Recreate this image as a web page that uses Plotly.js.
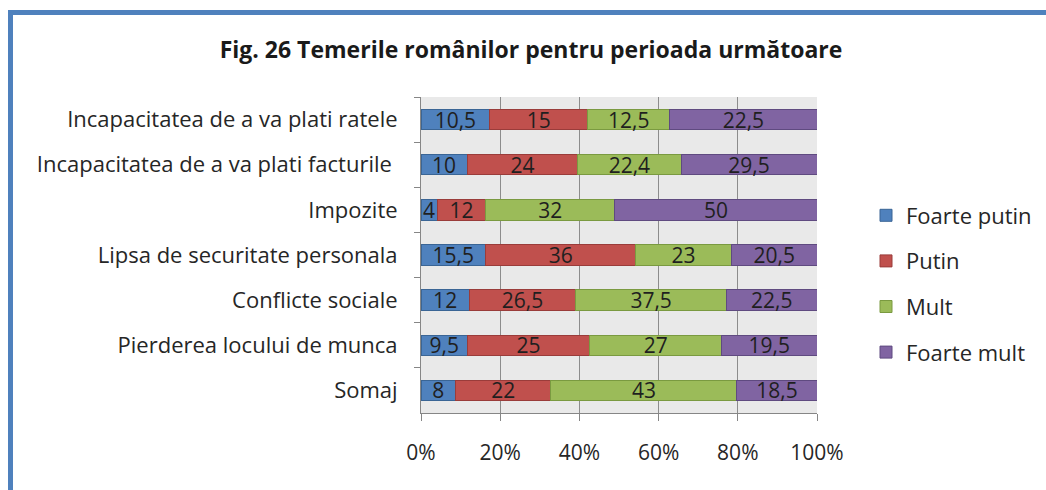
<!DOCTYPE html>
<html>
<head>
<meta charset="utf-8">
<script src="https://cdn.plot.ly/plotly-3.0.1.min.js"></script>
<style>
  html, body { margin: 0; padding: 0; background: #ffffff; }
  #wrap { position: relative; width: 1046px; height: 490px; overflow: hidden; }
  #chart { position: absolute; left: 0; top: 0; width: 1046px; height: 490px; }
  #frame { position: absolute; left: 8px; top: 10px; right: -10px; bottom: -10px;
           border-top: 5px solid #4f81bd; border-left: 5px solid #4f81bd; pointer-events: none; }
</style>
</head>
<body>
<div id="wrap">
  <div id="chart"></div>
  <div id="frame"></div>
</div>
<script>
// Categories, listed top to bottom as in the chart
const categories = [
  "Incapacitatea de a va plati ratele",
  "Incapacitatea de a va plati facturile ",
  "Impozite",
  "Lipsa de securitate personala",
  "Conflicte sociale",
  "Pierderea locului de munca",
  "Somaj"
];
const seriesNames = ["Foarte putin", "Putin", "Mult", "Foarte mult"];
const foartePutin = [10.5, 10, 4, 15.5, 12, 9.5, 8];
const putin       = [15, 24, 12, 36, 26.5, 25, 22];
const mult        = [12.5, 22.4, 32, 23, 37.5, 27, 43];
const foarteMult  = [22.5, 29.5, 50, 20.5, 22.5, 19.5, 18.5];
const xTickVals   = [0, 20, 40, 60, 80, 100];
const xTickText   = ["0%", "20%", "40%", "60%", "80%", "100%"];

const seriesValues = [foartePutin, putin, mult, foarteMult];
const colors = ["#4f81bd", "#c0504d", "#9bbb59", "#8064a2"];
const lineColors = ["#3a6595", "#9a3c3a", "#7a9a40", "#5f4a80"];

const FONT = "'Open Sans', 'Noto Sans', sans-serif";

const traces = seriesValues.map((vals, i) => ({
  type: "bar",
  orientation: "h",
  name: seriesNames[i],
  legendgroup: "g" + i,
  y: categories,
  x: vals,
  text: vals.map(v => String(v).replace(".", ",")),
  texttemplate: "%{text}",
  textposition: "inside",
  insidetextanchor: "middle",
  textangle: 0,
  constraintext: "none",
  textfont: { family: FONT, size: 21, color: "#1f1f1f" },
  marker: { color: colors[i], line: { color: lineColors[i], width: 1 } },
  hoverinfo: "skip"
}));

const layout = {
  width: 1046,
  height: 490,
  paper_bgcolor: "#ffffff",
  plot_bgcolor: "#e9e9e9",
  barmode: "stack",
  barnorm: "percent",
  bargap: 0.55,
  margin: { l: 421, r: 229, t: 97, b: 77, pad: 0, autoexpand: false },
  font: { family: FONT, color: "#262626" },
  title: {
    text: "<b>Fig. 26 Temerile românilor pentru perioada următoare</b>",
    font: { family: FONT, size: 23, color: "#1a1a1a" },
    x: 531 / 1046, xref: "container", xanchor: "center",
    y: 1 - 50 / 490, yref: "container", yanchor: "middle"
  },
  xaxis: {
    range: [0, 100],
    tickvals: xTickVals,
    ticktext: xTickText,
    showgrid: true,
    gridcolor: "#8c8c8c",
    gridwidth: 1,
    zeroline: false,
    showline: true,
    linecolor: "#868686",
    linewidth: 1,
    ticks: "outside",
    ticklen: 7,
    tickcolor: "#868686",
    ticklabelstandoff: 14,
    tickfont: { family: FONT, size: 21, color: "#262626" },
    automargin: false,
    fixedrange: true
  },
  yaxis: {
    type: "category",
    autorange: "reversed",
    showgrid: false,
    showline: true,
    linecolor: "#868686",
    linewidth: 1,
    ticks: "outside",
    tickson: "boundaries",
    ticklen: 6,
    tickcolor: "#868686",
    ticklabelstandoff: 18,
    tickfont: { family: FONT, size: 22, color: "#262626" },
    automargin: false,
    fixedrange: true
  },
  showlegend: true,
  legend: {
    x: 1 + 49 / 396, xref: "paper", xanchor: "left",
    y: (413 - 284) / 316, yanchor: "middle",
    traceorder: "grouped",
    tracegroupgap: 14,
    font: { family: FONT, size: 22, color: "#262626" },
    bgcolor: "rgba(0,0,0,0)",
    itemclick: false, itemdoubleclick: false
  },
  uniformtext: { mode: "show", minsize: 21 }
};

Plotly.newPlot("chart", traces, layout, { displayModeBar: false, staticPlot: true });
</script>
</body>
</html>
